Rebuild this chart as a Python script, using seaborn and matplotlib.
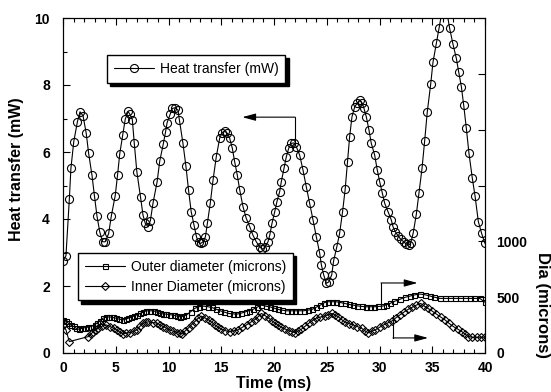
import matplotlib
matplotlib.use("Agg")
import matplotlib.pyplot as plt
import pandas as pd
import seaborn as sns
from matplotlib.ticker import MultipleLocator, FixedLocator, FixedFormatter

# ---------------- data ----------------
heat_time = [0.0, 0.28, 0.6, 0.75, 1.02, 1.37, 1.61, 1.9, 2.2, 2.43, 2.75, 2.98, 3.22, 3.48,
             3.75, 4.0, 4.33, 4.58, 4.95, 5.17, 5.38, 5.67, 5.9, 6.17, 6.35, 6.57, 6.75, 7.0,
             7.35, 7.58, 7.8, 8.06, 8.28, 8.53, 8.92, 9.17, 9.5, 9.72, 9.87, 10.15, 10.36,
             10.62, 10.9, 11.03, 11.36, 11.65, 11.9, 12.15, 12.42, 12.65, 12.85, 13.05, 13.27,
             13.5, 13.68, 13.96, 14.22, 14.53, 14.85, 15.07, 15.33, 15.57, 15.8, 16.05, 16.27,
             16.52, 16.75, 17.06, 17.37, 17.7, 18.0, 18.32, 18.64, 18.89, 19.12, 19.43, 19.6,
             19.81, 20.07, 20.28, 20.54, 20.69, 20.95, 21.17, 21.39, 21.64, 21.9, 22.11, 22.43,
             22.75, 23.06, 23.38, 23.7, 24.01, 24.33, 24.49, 24.71, 24.96, 25.18, 25.47, 25.65,
             25.94, 26.22, 26.5, 26.75, 26.97, 27.17, 27.39, 27.65, 27.87, 28.12, 28.34, 28.53,
             28.75, 29.0, 29.22, 29.54, 29.79, 30.02, 30.27, 30.49, 30.81, 31.12, 31.28, 31.5,
             31.75, 32.0, 32.3, 32.55, 32.75, 32.95, 33.2, 33.49, 33.74, 34.03, 34.28, 34.53,
             34.85, 35.07, 35.39, 35.64, 35.9, 36.15, 36.4, 36.65, 36.97, 37.28, 37.5, 37.76,
             37.98, 38.23, 38.48, 38.8, 39.05, 39.37, 39.68, 40.0]
heat_mw = [2.76, 2.9, 4.59, 5.51, 6.31, 6.91, 7.2, 7.08, 6.56, 5.96, 5.3, 4.69, 4.09, 3.62,
           3.32, 3.32, 3.57, 4.09, 4.7, 5.31, 5.95, 6.52, 6.98, 7.21, 7.12, 6.97, 6.28, 5.41,
           4.65, 4.12, 3.87, 3.77, 3.95, 4.47, 5.11, 5.73, 6.23, 6.6, 6.88, 7.12, 7.3,
           7.32, 7.25, 6.96, 6.28, 5.58, 4.86, 4.22, 3.82, 3.47, 3.3, 3.27, 3.32,
           3.47, 3.87, 4.47, 5.16, 5.86, 6.41, 6.58, 6.62, 6.56, 6.41, 6.11, 5.71,
           5.31, 4.87, 4.37, 4.02, 3.77, 3.52, 3.32, 3.17, 3.1, 3.15, 3.32, 3.52,
           3.87, 4.22, 4.52, 4.82, 5.11, 5.51, 5.86, 6.11, 6.26, 6.27, 6.16, 5.91,
           5.46, 4.96, 4.47, 3.97, 3.47, 2.98, 2.63, 2.33, 2.08, 2.12, 2.33, 2.75,
           3.15, 3.57, 4.22, 4.9, 5.7, 6.46, 7.05, 7.35, 7.45, 7.55, 7.47, 7.3,
           7.05, 6.66, 6.26, 5.91, 5.46, 5.11, 4.77, 4.47, 4.22, 3.97, 3.77, 3.62,
           3.5, 3.4, 3.32, 3.25, 3.22, 3.27, 3.59, 4.14, 4.77, 5.51, 6.33, 7.2,
           8.02, 8.68, 9.25, 9.71, 10.15, 10.3, 10.15, 9.69, 9.21, 8.8, 8.4, 7.95,
           7.4, 6.71, 5.96, 5.21, 4.7, 3.92, 3.57, 3.27]

outer_time = [0.0, 0.25, 0.5, 0.75, 1.0, 1.25, 1.5, 1.8, 2.1, 2.4, 2.7, 3.0, 3.2, 3.5, 3.8,
              4.1, 4.4, 4.7, 5.0, 5.35, 5.7, 6.0, 6.2, 6.45, 6.7, 7.0, 7.3, 7.6, 7.9, 8.25,
              8.6, 8.9, 9.2, 9.5, 9.8, 10.15, 10.5, 10.8, 11.1, 11.4, 11.7, 12.1, 12.5, 12.9,
              13.3, 13.7, 14.1, 14.5, 14.9, 15.3, 15.7, 16.1, 16.5, 16.9, 17.3, 17.65, 18.0,
              18.4, 18.8, 19.2, 19.6, 20.0, 20.4, 20.8, 21.2, 21.6, 22.0, 22.4, 22.8, 23.2,
              23.6, 24.0, 24.4, 24.75, 25.1, 25.5, 25.9, 26.3, 26.7, 27.1, 27.5, 27.9, 28.3,
              28.7, 29.1, 29.5, 29.9, 30.3, 30.6, 31.0, 31.4, 31.9, 32.4, 32.9, 33.3, 33.8,
              34.3, 34.8, 35.2, 35.7, 36.2, 36.7, 37.2, 37.6, 38.1, 38.6, 39.0, 39.5, 40.0]
outer_um = [300, 285, 268, 250, 238, 222, 213, 220, 228, 232, 237, 255, 267, 290, 312,
            320, 324, 318, 312, 303, 297, 305, 312, 320, 330, 342, 354, 366, 378, 378,
            378, 366, 354, 350, 348, 343, 339, 330, 324, 328, 340, 370, 400, 415,
            420, 415, 408, 393, 378, 366, 354, 350, 348, 357, 369, 380, 390,
            410, 429, 420, 414, 402, 390, 383, 378, 378, 378, 378, 378, 384,
            390, 410, 429, 450, 459, 459, 459, 452, 444, 435, 429, 422, 417,
            414, 414, 414, 417, 420, 430, 444, 462, 480, 498, 510, 520, 528,
            522, 510, 500, 489, 489, 489, 489, 489, 489, 489, 489, 489, 455]

inner_time = [0.0, 0.28, 0.6, 2.4, 2.65, 2.87, 3.1, 3.35, 3.7, 4.08, 4.45, 4.8, 5.1, 5.4,
              5.7, 6.0, 6.35, 6.7, 7.0, 7.3, 7.6, 7.85, 8.1, 8.5, 8.9, 9.2, 9.5, 9.8, 10.1,
              10.45, 10.8, 11.1, 11.25, 11.55, 11.9, 12.2, 12.5, 12.8, 13.1, 13.45, 13.8,
              14.1, 14.4, 14.7, 15.0, 15.4, 15.8, 16.2, 16.6, 17.0, 17.4, 17.8, 18.2, 18.5,
              18.8, 19.15, 19.5, 19.8, 20.1, 20.4, 20.7, 21.05, 21.4, 21.7, 22.0, 22.3,
              22.6, 22.95, 23.3, 23.65, 24.0, 24.4, 24.8, 25.15, 25.5, 25.8, 26.1, 26.4,
              26.7, 27.1, 27.5, 27.9, 28.3, 28.6, 28.9, 29.25, 29.6, 30.0, 30.4, 30.8,
              31.2, 31.55, 31.9, 32.3, 32.7, 33.1, 33.5, 33.9, 34.25, 34.6, 35.0, 35.4,
              35.8, 36.2, 36.6, 37.0, 37.4, 37.8, 38.1, 38.4, 38.8, 39.2, 39.6, 40.0]
inner_um = [252, 207, 102, 147, 170, 192, 207, 222, 240, 252, 237, 222, 207, 186,
            171, 177, 183, 195, 207, 240, 267, 276, 279, 273, 267, 252, 237, 222, 207,
            195, 183, 177, 171, 195, 225, 255, 282, 310, 330, 315, 297,
            275, 252, 232, 213, 200, 192, 198, 207, 230, 252, 276, 300, 325,
            354, 335, 312, 290, 267, 248, 231, 215, 201, 190, 183, 198,
            213, 240, 267, 290, 312, 322, 330, 342, 354, 340, 324, 300,
            279, 264, 252, 237, 222, 200, 183, 195, 207, 230, 252, 270,
            288, 315, 339, 365, 390, 410, 429, 444, 420, 399, 375, 348,
            322, 297, 265, 237, 215, 192, 170, 147, 141, 141, 141, 141]

x_ticks = [0, 5, 10, 15, 20, 25, 30, 35, 40]
left_ticks = [0, 2, 4, 6, 8, 10]
right_ticks = [0, 500, 1000, 1500, 2000, 2500, 3000]
right_tick_labels = ["0", "500", "1000", "", "", "", ""]

heat_label = "Heat transfer (mW)"
outer_label = "Outer diameter (microns)"
inner_label = "Inner Diameter (microns)"

# ---------------- style ----------------
sns.set_theme(style="ticks")
plt.rcParams["font.family"] = ["Liberation Sans", "DejaVu Sans"]
plt.rcParams["font.weight"] = "bold"
plt.rcParams["axes.edgecolor"] = "black"
plt.rcParams["axes.linewidth"] = 0.8
plt.rcParams["xtick.color"] = "black"
plt.rcParams["ytick.color"] = "black"
plt.rcParams["text.color"] = "black"

fig = plt.figure(figsize=(5.51, 3.92), dpi=100)
ax = fig.add_axes([63 / 551, 1 - 353 / 392, 422 / 551, 335 / 392])
ax2 = ax.twinx()

heat_df = pd.DataFrame({"t": heat_time, "v": heat_mw})
outer_df = pd.DataFrame({"t": outer_time, "v": outer_um})
inner_df = pd.DataFrame({"t": inner_time, "v": inner_um})

sns.lineplot(data=heat_df, x="t", y="v", ax=ax, sort=False, estimator=None,
             color="black", linewidth=0.8, marker="o", markersize=5.8,
             markerfacecolor="none", markeredgecolor="black", markeredgewidth=0.8,
             label=heat_label)
sns.lineplot(data=outer_df, x="t", y="v", ax=ax2, sort=False, estimator=None,
             color="black", linewidth=0.8, marker="s", markersize=3.6,
             markerfacecolor="none", markeredgecolor="black", markeredgewidth=0.8,
             label=outer_label)
sns.lineplot(data=inner_df, x="t", y="v", ax=ax2, sort=False, estimator=None,
             color="black", linewidth=0.8, marker="D", markersize=4.2,
             markerfacecolor="none", markeredgecolor="black", markeredgewidth=0.8,
             label=inner_label)

# ---------------- axes ----------------
ax.set_xlim(0, 40)
ax.set_ylim(0, 10)
ax2.set_ylim(0, 3000)
ax.xaxis.set_major_locator(FixedLocator(x_ticks))
ax.xaxis.set_minor_locator(MultipleLocator(1))
ax.yaxis.set_major_locator(FixedLocator(left_ticks))
ax.yaxis.set_minor_locator(MultipleLocator(1))
ax2.yaxis.set_major_locator(FixedLocator(right_ticks))
ax2.yaxis.set_major_formatter(FixedFormatter(right_tick_labels))
ax2.yaxis.set_minor_locator(FixedLocator([]))

ax.tick_params(which="both", direction="in", top=True, right=False, width=0.8)
ax.tick_params(which="major", length=5.2, labelsize=10)
ax.tick_params(which="minor", length=2.8)
ax.tick_params(axis="x", pad=6)
ax.tick_params(axis="y", pad=9.5)
ax2.tick_params(axis="y", direction="in", length=5.2, width=0.8, labelsize=10, pad=8)

ax.set_xlabel("")
ax.set_ylabel("")
ax2.set_ylabel("")
ax.text(0.5, -0.07, "Time (ms)", transform=ax.transAxes, ha="center", va="top",
        fontsize=11.5, fontweight="bold")
ax.text(-0.111, 0.55, "Heat transfer (mW)", transform=ax.transAxes, ha="center",
        va="center", rotation=90, fontsize=11.5, fontweight="bold")
ax2.text(1.137, 0.143, "Dia (microns)", transform=ax.transAxes, ha="center",
         va="center", rotation=270, fontsize=12, fontweight="bold")

for sp in list(ax.spines.values()) + list(ax2.spines.values()):
    sp.set_color("black")
    sp.set_linewidth(0.8)

# ---------------- legends ----------------
leg_prop = {"family": ["Liberation Sans", "DejaVu Sans"], "size": 10, "weight": "normal"}
shadow = {"ox": 2.4, "oy": -2.4, "color": "black", "alpha": 1}

h1, l1 = ax.get_legend_handles_labels()
leg1 = ax.legend(h1, l1, loc="upper left", bbox_to_anchor=(0.104, 0.890),
                 borderaxespad=0, prop=leg_prop, frameon=True, fancybox=False,
                 shadow=shadow, framealpha=1, edgecolor="black", handlelength=2.9,
                 handletextpad=0.4, borderpad=0.5)
leg1.get_frame().set_linewidth(1.0)

h2, l2 = ax2.get_legend_handles_labels()
leg2 = ax2.legend(h2, l2, loc="upper left", bbox_to_anchor=(0.0355, 0.2985),
                  borderaxespad=0, prop=leg_prop, frameon=True, fancybox=False,
                  shadow=shadow, framealpha=1, edgecolor="black", handlelength=2.9,
                  handletextpad=0.4, borderpad=0.5, labelspacing=0.4)
leg2.get_frame().set_linewidth(1.0)

# ---------------- arrows ----------------
arrow_kw = dict(arrowstyle="-|>,head_length=0.8,head_width=0.22", color="black",
                lw=0.8, shrinkA=0, shrinkB=0, mutation_scale=10)
ax.plot([22.0, 22.0], [6.27, 7.04], color="black", lw=0.8)
ax.annotate("", xy=(17.0, 7.04), xytext=(22.0, 7.04), arrowprops=arrow_kw)
ax.plot([30.14, 30.14], [1.43, 2.09], color="black", lw=0.8)
ax.annotate("", xy=(33.6, 2.09), xytext=(30.14, 2.09), arrowprops=arrow_kw)
ax.plot([31.28, 31.28], [1.13, 0.45], color="black", lw=0.8)
ax.annotate("", xy=(34.6, 0.45), xytext=(31.28, 0.45), arrowprops=arrow_kw)

fig.savefig("out.png", dpi=100)
